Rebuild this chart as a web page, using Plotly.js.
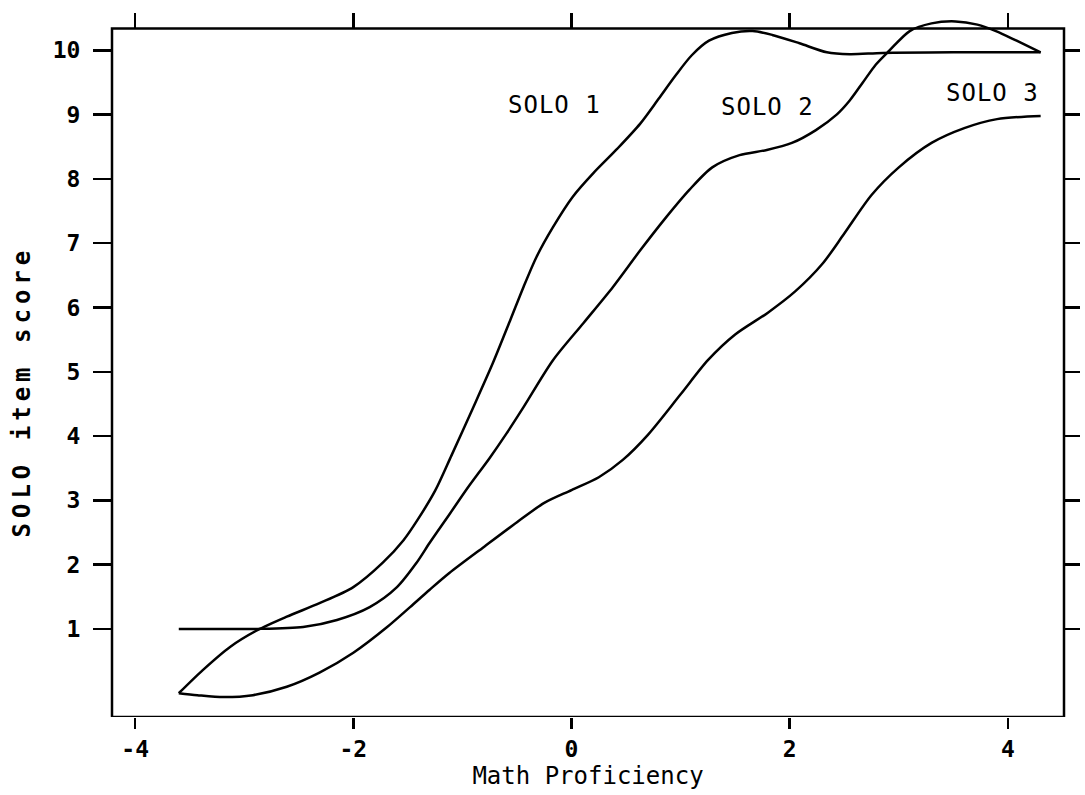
<!DOCTYPE html>
<html>
<head>
<meta charset="utf-8">
<script src="https://cdn.plot.ly/plotly-3.0.1.min.js"></script>
<style>
  body { margin: 0; background: #fff; }
  .annotation .annotation-text { letter-spacing: 1px; }
  .annotation[data-index="3"] .annotation-text { letter-spacing: 5px; }
</style>
</head>
<body>
<div id="chart" style="width:1085px;height:795px"></div>
<script>
// ---- data ----
const solo1X = [-3.6, -3.38, -3.13, -2.88, -2.61, -2.31, -2.0, -1.73, -1.54, -1.41, -1.25, -1.1, -0.9, -0.72, -0.56, -0.44, -0.32, -0.17, 0.01, 0.2, 0.42, 0.63, 0.8, 0.95, 1.1, 1.26, 1.47, 1.66, 1.84, 2.09, 2.34, 2.55, 2.85, 3.5, 4.3];
const solo1Y = [0.0, 0.36, 0.72, 0.98, 1.19, 1.40, 1.65, 2.03, 2.38, 2.70, 3.15, 3.7, 4.45, 5.14, 5.81, 6.32, 6.79, 7.25, 7.72, 8.09, 8.47, 8.86, 9.25, 9.6, 9.92, 10.15, 10.27, 10.30, 10.24, 10.11, 9.97, 9.94, 9.96, 9.97, 9.97];

const solo2X = [-3.6, -3.2, -2.88, -2.46, -2.15, -1.85, -1.6, -1.42, -1.3, -1.12, -0.95, -0.75, -0.6, -0.44, -0.17, 0.11, 0.38, 0.63, 0.87, 1.08, 1.29, 1.54, 1.79, 2.02, 2.24, 2.43, 2.55, 2.67, 2.79, 2.91, 3.1, 3.3, 3.52, 3.72, 3.89, 4.08, 4.3];
const solo2Y = [1.0, 1.0, 1.0, 1.03, 1.14, 1.34, 1.65, 2.03, 2.34, 2.78, 3.2, 3.66, 4.03, 4.45, 5.18, 5.76, 6.32, 6.89, 7.41, 7.83, 8.18, 8.37, 8.45, 8.56, 8.76, 9.0, 9.22, 9.5, 9.78, 9.99, 10.3, 10.42, 10.45, 10.4, 10.3, 10.15, 9.97];

const solo3X = [-3.6, -3.43, -3.19, -2.92, -2.61, -2.31, -2.0, -1.69, -1.48, -1.3, -1.12, -0.8, -0.5, -0.25, 0.0, 0.25, 0.47, 0.7, 1.0, 1.25, 1.5, 1.8, 2.05, 2.3, 2.5, 2.75, 3.0, 3.3, 3.6, 3.9, 4.3];
const solo3Y = [0.0, -0.03, -0.06, -0.03, 0.10, 0.32, 0.63, 1.03, 1.34, 1.61, 1.87, 2.28, 2.66, 2.96, 3.16, 3.36, 3.63, 4.02, 4.65, 5.18, 5.58, 5.92, 6.25, 6.68, 7.15, 7.75, 8.18, 8.56, 8.79, 8.93, 8.98];

const seriesNames = ['SOLO 1', 'SOLO 2', 'SOLO 3'];

const xTickVals = [-4, -2, 0, 2, 4];
const xTickText = ['-4', '-2', '0', '2', '4'];
const yTickVals = [1, 2, 3, 4, 5, 6, 7, 8, 9, 10];
const yTickText = ['1', '2', '3', '4', '5', '6', '7', '8', '9', '10'];

const xTitle = 'Math Proficiency';
const yTitle = 'SOLO item score';

// ---- layout constants ----
const X_RANGE = [-4.212, 4.514];
const Y_RANGE = [-0.37, 10.55];
const FRAME_TOP = 10.34;
const topPos = (FRAME_TOP - Y_RANGE[0]) / (Y_RANGE[1] - Y_RANGE[0]);
const FONT = 'DejaVu Sans Mono, Liberation Mono, monospace';

const lineStyle = { color: 'black', width: 2.5, shape: 'spline', smoothing: 0.8 };

const traces = [
  { x: solo1X, y: solo1Y, name: seriesNames[0], mode: 'lines', line: lineStyle, hoverinfo: 'skip' },
  { x: solo2X, y: solo2Y, name: seriesNames[1], mode: 'lines', line: lineStyle, hoverinfo: 'skip' },
  { x: solo3X, y: solo3Y, name: seriesNames[2], mode: 'lines', line: lineStyle, hoverinfo: 'skip', xaxis: 'x2', yaxis: 'y2' }
];

const common = { showgrid: false, zeroline: false, showline: false, tickcolor: 'black', tickwidth: 2.5, fixedrange: true };

const layout = {
  width: 1085, height: 795,
  margin: { l: 112, r: 21, t: 15, b: 78 },
  paper_bgcolor: 'white', plot_bgcolor: 'white',
  showlegend: false,
  font: { family: FONT, color: 'black' },
  xaxis: Object.assign({}, common, {
    range: X_RANGE, ticks: 'outside', ticklen: 11,
    tickmode: 'array', tickvals: xTickVals, ticktext: xTickText,
    tickfont: { family: FONT, size: 23, weight: 'bold', color: 'black' },
    title: { text: xTitle, font: { family: FONT, size: 24, color: 'black' }, standoff: 0 }
  }),
  yaxis: Object.assign({}, common, {
    range: Y_RANGE, ticks: 'outside', ticklen: 18, ticklabelstandoff: 8,
    tickmode: 'array', tickvals: yTickVals, ticktext: yTickText,
    tickfont: { family: FONT, size: 23, weight: 'bold', color: 'black' }
  }),
  xaxis2: Object.assign({}, common, {
    overlaying: 'x', side: 'top', anchor: 'free', position: topPos,
    range: X_RANGE, ticks: 'outside', ticklen: 16,
    tickmode: 'array', tickvals: xTickVals, showticklabels: false
  }),
  yaxis2: Object.assign({}, common, {
    overlaying: 'y', side: 'right', anchor: 'free', position: 1,
    range: Y_RANGE, ticks: 'outside', ticklen: 15,
    tickmode: 'array', tickvals: yTickVals, showticklabels: false
  }),
  shapes: [{
    type: 'rect', xref: 'paper', yref: 'y', x0: 0, x1: 1, y0: Y_RANGE[0], y1: FRAME_TOP,
    line: { color: 'black', width: 2.5 }, fillcolor: 'rgba(0,0,0,0)', layer: 'above'
  }],
  annotations: [
    { text: seriesNames[0], x: -0.16, y: 9.15, xref: 'x', yref: 'y', showarrow: false, font: { family: FONT, size: 24, color: 'black' } },
    { text: seriesNames[1], x: 1.80, y: 9.12, xref: 'x', yref: 'y', showarrow: false, font: { family: FONT, size: 24, color: 'black' } },
    { text: seriesNames[2], x: 3.86, y: 9.34, xref: 'x', yref: 'y', showarrow: false, font: { family: FONT, size: 24, color: 'black' } },
    { text: yTitle, textangle: -90, xref: 'paper', yref: 'paper', x: -0.0945, y: 0.463, xanchor: 'center', yanchor: 'middle',
      showarrow: false, font: { family: FONT, size: 24, weight: 'bold', color: 'black' } }
  ]
};

Plotly.newPlot('chart', traces, layout, { displayModeBar: false, staticPlot: true });
</script>
</body>
</html>
